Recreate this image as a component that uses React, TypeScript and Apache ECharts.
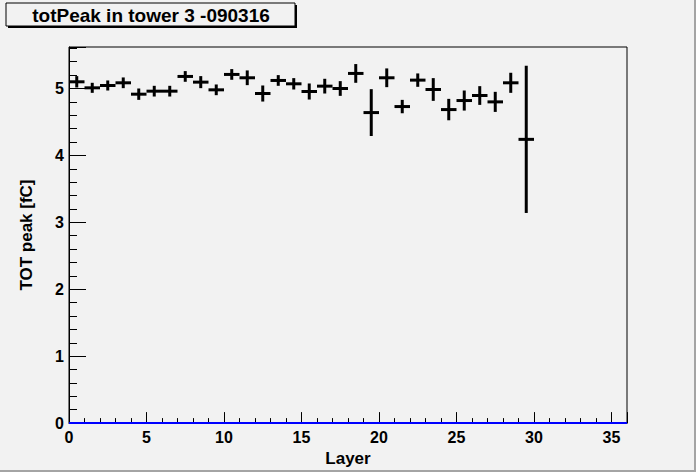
import React, { useEffect, useRef } from "react";
import * as echarts from "echarts";

// Layer bin centres (bin width 1)
const layers = [
  0.5, 1.5, 2.5, 3.5, 4.5, 5.5, 6.5, 7.5, 8.5, 9.5,
  10.5, 11.5, 12.5, 13.5, 14.5, 15.5, 16.5, 17.5, 18.5, 19.5,
  20.5, 21.5, 22.5, 23.5, 24.5, 25.5, 26.5, 27.5, 28.5, 29.5,
];
const totPeak = [
  5.1, 5.01, 5.045, 5.085, 4.915, 4.96, 4.96, 5.18, 5.095, 4.98,
  5.21, 5.16, 4.925, 5.12, 5.07, 4.955, 5.035, 5.0, 5.225, 4.64,
  5.16, 4.73, 5.125, 4.985, 4.685, 4.82, 4.895, 4.8, 5.085, 4.24,
];
const totPeakErr = [
  0.085, 0.075, 0.075, 0.08, 0.085, 0.08, 0.08, 0.08, 0.09, 0.08,
  0.08, 0.11, 0.12, 0.08, 0.085, 0.12, 0.11, 0.11, 0.14, 0.35,
  0.14, 0.1, 0.1, 0.17, 0.16, 0.15, 0.14, 0.15, 0.15, 1.1,
];
const binWidth = 1;
const emptyLine = [
  [0, 0],
  [36, 0],
];
const xMajorTicks = [0, 5, 10, 15, 20, 25, 30, 35];
const yMajorTicks = [0, 1, 2, 3, 4, 5];

const FONT = "Liberation Sans";

export default function App() {
  const ref = useRef<HTMLDivElement>(null);
  useEffect(() => {
    if (!ref.current) return;
    const chart = echarts.init(ref.current, undefined, { renderer: "svg" });
    const data = layers.map((x, i) => [x, totPeak[i], totPeakErr[i]]);
    const labelStyle = {
      fontFamily: FONT,
      fontWeight: "bold" as const,
      fontSize: 16,
      color: "#000",
    };
    chart.setOption({
      animation: false,
      backgroundColor: "#f2f2f2",
      grid: {
        left: 69,
        right: 69,
        top: 47,
        bottom: 48,
        show: true,
        borderColor: "#000",
        borderWidth: 1,
        backgroundColor: "transparent",
      },
      graphic: [
        { type: "rect", shape: { x: 694, y: 0, width: 2, height: 472 }, style: { fill: "#a4a4a4" } },
        { type: "rect", shape: { x: 0, y: 470, width: 696, height: 2 }, style: { fill: "#a4a4a4" } },
        { type: "rect", shape: { x: 8, y: 5, width: 289, height: 23 }, style: { fill: "#000" } },
        {
          type: "rect",
          shape: { x: 6, y: 3, width: 289, height: 23 },
          style: { fill: "#f2f2f2", stroke: "#000", lineWidth: 1 },
        },
        {
          type: "text",
          x: 151,
          y: 15,
          style: {
            text: "totPeak in tower 3 -090316",
            fontFamily: FONT,
            fontWeight: "bold",
            fontSize: 19,
            fill: "#000",
            textAlign: "center",
            textVerticalAlign: "middle",
          },
        },
      ],
      xAxis: [
        {
          type: "value",
          min: 0,
          max: 36,
          interval: 5,
          name: "Layer",
          nameLocation: "middle",
          nameGap: 25,
          nameTextStyle: { ...labelStyle, fontSize: 17 },
          axisLine: { show: true, lineStyle: { color: "#000", width: 1 } },
          axisTick: { show: true, inside: true, length: 11, lineStyle: { color: "#000" } },
          axisLabel: {
            ...labelStyle,
            margin: 6,
            formatter: (v: number) => (xMajorTicks.includes(v) ? String(v) : ""),
          },
          splitLine: { show: false },
        },
        {
          type: "value",
          min: 0,
          max: 36,
          interval: 1,
          position: "bottom",
          axisLine: { show: false },
          axisTick: { show: true, inside: true, length: 5, lineStyle: { color: "#000" } },
          axisLabel: { show: false },
          splitLine: { show: false },
        },
      ],
      yAxis: [
        {
          type: "value",
          min: 0,
          max: 5.62,
          interval: 1,
          name: "TOT peak [fC]",
          nameLocation: "middle",
          nameGap: 34,
          nameTextStyle: { ...labelStyle, fontSize: 17 },
          axisLine: { show: true, lineStyle: { color: "#000", width: 1 } },
          axisTick: { show: true, inside: true, length: 17, lineStyle: { color: "#000" } },
          axisLabel: {
            ...labelStyle,
            margin: 5,
            formatter: (v: number) => (yMajorTicks.includes(v) ? String(v) : ""),
          },
          splitLine: { show: false },
        },
        {
          type: "value",
          min: 0,
          max: 5.62,
          interval: 0.2,
          position: "left",
          axisLine: { show: false },
          axisTick: { show: true, inside: true, length: 8, lineStyle: { color: "#000" } },
          axisLabel: { show: false },
          splitLine: { show: false },
        },
      ],
      series: [
        {
          type: "line",
          data: emptyLine,
          xAxisIndex: 0,
          yAxisIndex: 0,
          symbol: "none",
          lineStyle: { color: "#0000ff", width: 2 },
          z: 5,
        },
        {
          type: "custom",
          xAxisIndex: 0,
          yAxisIndex: 0,
          data,
          encode: { x: 0, y: 1 },
          renderItem: (params: any, api: any) => {
            const x = api.value(0);
            const y = api.value(1);
            const e = api.value(2);
            const l = api.coord([x - binWidth / 2, y]);
            const r = api.coord([x + binWidth / 2, y]);
            const t = api.coord([x, y + e]);
            const b = api.coord([x, y - e]);
            return {
              type: "group",
              children: [
                {
                  type: "line",
                  shape: { x1: l[0], y1: l[1], x2: r[0], y2: r[1] },
                  style: { stroke: "#000", lineWidth: 3 },
                },
                {
                  type: "line",
                  shape: { x1: t[0], y1: t[1], x2: b[0], y2: b[1] },
                  style: { stroke: "#000", lineWidth: 3 },
                },
              ],
            };
          },
          z: 6,
        },
      ],
    });
    return () => chart.dispose();
  }, []);
  return (
    <div
      ref={ref}
      style={{ position: "absolute", left: 0, top: 0, width: 696, height: 472 }}
    />
  );
}
